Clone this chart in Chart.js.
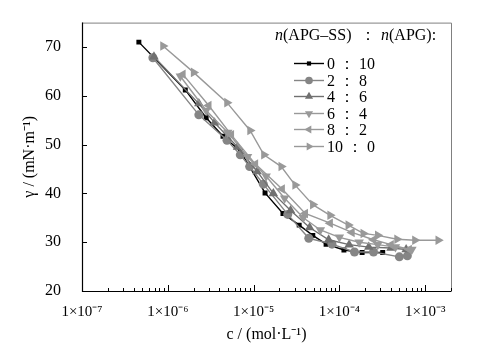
<!DOCTYPE html>
<html><head><meta charset="utf-8">
<script src="https://cdn.jsdelivr.net/npm/chart.js@4/dist/chart.umd.min.js"></script>
<style>html,body{margin:0;padding:0;background:#fff}#wrap{width:480px;height:347px}</style>
</head><body><div id="wrap"><canvas id="c" width="480" height="347"></canvas></div>
<script>
const seriesLabels = ["0 \uFF1A 10", "2 \uFF1A 8", "4 \uFF1A 6", "6 \uFF1A 4", "8 \uFF1A 2", "10 \uFF1A 0"];
const s0_10 = [[4.6e-7,71.0],[1.6e-6,61.2],[2.8e-6,55.5],[4.4e-6,51.7],[7e-6,48.7],[1.36e-5,40.1],[2.2e-5,35.9],[3.4e-5,33.5],[4.9e-5,31.4],[7e-5,29.6],[1.13e-4,28.4],[1.84e-4,27.9],[3.2e-4,27.9]];
const s2_8 = [[6.7e-7,67.8],[2.3e-6,56.1],[4.9e-6,50.9],[7e-6,47.9],[9e-6,45.5],[1.3e-5,41.9],[2.5e-5,35.7],[4.4e-5,30.8],[8.2e-5,29.6],[1.5e-4,28.0],[2.5e-4,28.0],[5e-4,27.0],[6.2e-4,27.2]];
const s4_6 = [[6.9e-7,68.0],[2.3e-6,58.4],[3.5e-6,54.5],[6.5e-6,49.5],[1.1e-5,44.5],[1.7e-5,40.0],[2.7e-5,36.5],[4.5e-5,33.0],[7.5e-5,30.5],[1.3e-4,29.5],[2.2e-4,29.0],[4e-4,28.8],[6e-4,28.5]];
const s6_4 = [[1.4e-6,64.0],[2.8e-6,57.0],[5e-6,52.5],[8.5e-6,47.5],[1.4e-5,43.5],[2.3e-5,39.0],[3.8e-5,35.0],[6e-5,32.5],[1e-4,31.0],[1.7e-4,30.0],[2.8e-4,29.5],[4.5e-4,29.0],[7e-4,28.5]];
const s8_2 = [[1.5e-6,64.4],[3e-6,58.0],[5.5e-6,52.0],[1.05e-5,46.0],[2.15e-5,40.9],[4e-5,35.9],[7.8e-5,33.9],[1.4e-4,32.0],[2.5e-4,30.5],[4e-4,29.5],[6.5e-4,28.5]];
const s10_0 = [[8.8e-7,70.2],[2e-6,64.8],[4.9e-6,58.6],[9.1e-6,52.9],[1.32e-5,47.9],[2.1e-5,45.5],[3.05e-5,41.7],[4.9e-5,37.7],[7.8e-5,35.5],[1.27e-4,33.5],[1.9e-4,31.8],[2.8e-4,31.4],[4.7e-4,30.6],[7.6e-4,30.4],[1.42e-3,30.4]];
const xTickValues = [1e-7,1e-6,1e-5,1e-4,1e-3];
const xTickLabels = ["1\u00D710\u207B\u2077","1\u00D710\u207B\u2076","1\u00D710\u207B\u2075","1\u00D710\u207B\u2074","1\u00D710\u207B\u00B3"];
const yTickValues = [20,30,40,50,60,70];

const allSeries = [s0_10,s2_8,s4_6,s6_4,s8_2,s10_0];
const styles = [
  {color:'#000000', pointStyle:'rect', radius:3.5, rotation:0},
  {color:'#858585', pointStyle:'circle', radius:4.5, rotation:0},
  {color:'#707070', pointStyle:'triangle', radius:5.5, rotation:0},
  {color:'#999999', pointStyle:'triangle', radius:5.5, rotation:180},
  {color:'#999999', pointStyle:'triangle', radius:5.5, rotation:-90},
  {color:'#999999', pointStyle:'triangle', radius:5.5, rotation:90}
];
const datasets = allSeries.map((s,i)=>({
  label: seriesLabels[i],
  data: s.map(p=>({x:p[0], y:p[1]})),
  borderColor: styles[i].color,
  backgroundColor: styles[i].color,
  borderWidth: 1.4,
  pointStyle: styles[i].pointStyle,
  pointRadius: styles[i].radius,
  pointRotation: styles[i].rotation,
  pointBorderWidth: 0,
  showLine: true,
  tension: 0
}));
datasets.reverse();

const FONT = '"Liberation Serif", "Times New Roman", serif';

const framePlugin = {
  id:'frame',
  afterDraw(chart){
    const {ctx, chartArea:a, scales:{x,y}} = chart;
    ctx.save();
    ctx.strokeStyle = '#808080'; ctx.lineWidth = 1;
    ctx.beginPath();
    ctx.moveTo(a.left, a.top+0.5); ctx.lineTo(a.right+0.5, a.top+0.5); ctx.lineTo(a.right+0.5, a.bottom);
    ctx.stroke();
    ctx.strokeStyle = '#000'; ctx.lineWidth = 1.2;
    ctx.beginPath();
    ctx.moveTo(a.left+0.5, a.top); ctx.lineTo(a.left+0.5, a.bottom+0.5); ctx.lineTo(a.right+0.5, a.bottom+0.5);
    ctx.stroke();
    ctx.lineWidth = 1;
    ctx.beginPath();
    yTickValues.forEach(v=>{ const py = Math.round(y.getPixelForValue(v))+0.5; ctx.moveTo(a.left, py); ctx.lineTo(a.left+5, py); });
    for(let e=-7;e<=-3;e++){
      for(let m=1;m<=9;m++){
        const v = m*Math.pow(10,e);
        if(v> x.max) break;
        const px = Math.round(x.getPixelForValue(v))+0.5;
        const len = m===1?6:3;
        ctx.moveTo(px, a.bottom); ctx.lineTo(px, a.bottom-len);
      }
    }
    ctx.stroke();
    // legend title
    ctx.fillStyle = '#000';
    ctx.textBaseline = 'alphabetic';
    const ty = 40;
    const drawParts = (parts, x0)=>{ let tx=x0; parts.forEach(([st,t])=>{ ctx.font = st+' 16px '+FONT; ctx.fillText(t, tx, ty); tx += ctx.measureText(t).width; }); return tx; };
    drawParts([['italic','n'],['normal','(APG\u2013SS)']], 275);
    ctx.font = 'normal 16px '+FONT; ctx.textAlign='center'; ctx.fillText('\uFF1A', 368, ty); ctx.textAlign='left';
    drawParts([['italic','n'],['normal','(APG):']], 381);
    const rows = [63,80,96,113,129,146];
    rows.forEach((ry,i)=>{
      const st = styles[i];
      ctx.strokeStyle = st.color; ctx.lineWidth = 1.4;
      ctx.beginPath(); ctx.moveTo(294, ry+0.5); ctx.lineTo(324, ry+0.5); ctx.stroke();
      ctx.fillStyle = st.color;
      Chart.helpers.drawPoint(ctx, {pointStyle: st.pointStyle, radius: st.radius*0.85, rotation: st.rotation, borderWidth:0}, 309, ry+0.5);
      ctx.fillStyle = '#000';
      ctx.font = 'normal 16px '+FONT;
      ctx.fillText(seriesLabels[i], 327, ry+5.5);
    });
    ctx.restore();
  }
};

new Chart(document.getElementById('c'), {
  type:'scatter',
  data:{datasets},
  options:{
    responsive:false, animation:false, devicePixelRatio:1,
    layout:{padding:{left:0, right:29, top:17, bottom:0}},
    plugins:{legend:{display:false}, tooltip:{enabled:false}},
    scales:{
      x:{type:'logarithmic', min:1e-7, max:2e-3,
        afterFit(s){ s.height = 56; },
        afterBuildTicks(s){ s.ticks = xTickValues.map(v=>({value:v})); },
        ticks:{autoSkip:false, maxRotation:0, color:'#000', padding:4, font:{family:FONT, size:15},
          callback(v){ const i = xTickValues.findIndex(t=>Math.abs(Math.log10(t)-Math.log10(v))<1e-6); return i>=0?xTickLabels[i]:''; }},
        grid:{display:false}, border:{display:false},
        title:{display:true, text:'c / (mol\u00B7L\u207B\u00B9)', color:'#000', font:{family:FONT, size:16}, padding:{top:0,bottom:3}}
      },
      y:{type:'linear', min:20, max:75,
        afterFit(s){ s.width = 82; },
        afterBuildTicks(s){ s.ticks = yTickValues.map(v=>({value:v})); },
        ticks:{color:'#000', padding:13, font:{family:FONT, size:16}},
        grid:{display:false}, border:{display:false},
        title:{display:true, text:'\u03B3 / (mN\u00B7m\u207B\u00B9)', color:'#000', font:{family:FONT, size:16}, padding:{top:20,bottom:0}}
      }
    }
  },
  plugins:[framePlugin]
});
</script></body></html>
